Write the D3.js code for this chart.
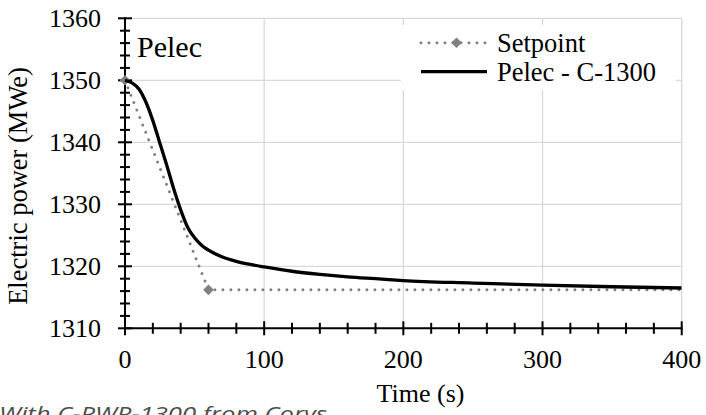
<!DOCTYPE html>
<html>
<head>
<meta charset="utf-8">
<script src="https://cdn.jsdelivr.net/npm/d3@7"></script>
<style>
  html, body { margin: 0; padding: 0; background: #fff; }
  svg { display: block; }
</style>
</head>
<body>
<svg id="chart" width="706" height="415"></svg>
<script>
// Electric power during a load reduction from 1350 MWe
const setpointTime = [0, 60, 1000];
const setpointPower = [1350, 1316.2, 1316.2];

const pelecTime = [0, 5, 10, 15, 20, 25, 30, 35, 40, 45, 50, 55, 60, 70, 80, 90, 100,
  120, 140, 160, 180, 200, 250, 300, 350, 400];
const pelecPower = [1350.0, 1349.6, 1348.6, 1346.5, 1343.5, 1339.9, 1336.3, 1332.5, 1329.1,
  1326.3, 1324.6, 1323.4, 1322.6, 1321.5, 1320.8, 1320.3, 1319.9,
  1319.2, 1318.7, 1318.3, 1318.0, 1317.7, 1317.3, 1316.95, 1316.7, 1316.5];

const xMajorTicks = [0, 100, 200, 300, 400];
const yMajorTicks = [1310, 1320, 1330, 1340, 1350, 1360];
const seriesNames = ["Setpoint", "Pelec - C-1300"];
const panelLabel = "Pelec";
const xTitle = "Time (s)";
const yTitle = "Electric power (MWe)";
const sourceNote = "With C-PWR-1300 from Corys";

const serif = "'Liberation Serif', 'Times New Roman', 'DejaVu Serif', serif";

const svg = d3.select("#chart").attr("font-family", serif);
const plot = { left: 125, right: 681.7, top: 18.3, bottom: 328.3 };

const x = d3.scaleLinear().domain([0, 400]).range([plot.left, plot.right]);
const y = d3.scaleLinear().domain([1310, 1360]).range([plot.bottom, plot.top]);

const gridColor = "#d9d9d9";
const setColor = "#808080";

// gridlines
const grid = svg.append("g");
grid.selectAll("line.h").data(yMajorTicks.filter(v => v > 1310)).join("line")
  .attr("x1", plot.left).attr("x2", plot.right)
  .attr("y1", d => y(d)).attr("y2", d => y(d))
  .attr("stroke", gridColor).attr("stroke-width", 1.3);
grid.selectAll("line.v").data(xMajorTicks.filter(v => v > 0)).join("line")
  .attr("x1", d => x(d)).attr("x2", d => x(d))
  .attr("y1", plot.top).attr("y2", plot.bottom)
  .attr("stroke", gridColor).attr("stroke-width", 1.3);

// axes with crossing tick marks
const axes = svg.append("g").attr("stroke", "#000").attr("stroke-width", 2);
axes.append("line").attr("x1", plot.left).attr("x2", plot.left)
  .attr("y1", plot.top - 1).attr("y2", plot.bottom + 1);
axes.append("line").attr("x1", plot.left - 1).attr("x2", plot.right + 1)
  .attr("y1", plot.bottom).attr("y2", plot.bottom);

const yMinor = d3.range(1310, 1360.001, 2).filter(v => v % 10 !== 0);
const xMinor = d3.range(0, 400.001, 20).filter(v => v % 100 !== 0);

axes.selectAll("line.ymaj").data(yMajorTicks).join("line")
  .attr("x1", plot.left - 7).attr("x2", plot.left + 7)
  .attr("y1", d => y(d)).attr("y2", d => y(d));
axes.selectAll("line.ymin").data(yMinor).join("line")
  .attr("x1", plot.left - 5).attr("x2", plot.left + 5)
  .attr("y1", d => y(d)).attr("y2", d => y(d));
axes.selectAll("line.xmaj").data(xMajorTicks).join("line")
  .attr("x1", d => x(d)).attr("x2", d => x(d))
  .attr("y1", plot.bottom - 7).attr("y2", plot.bottom + 7);
axes.selectAll("line.xmin").data(xMinor).join("line")
  .attr("x1", d => x(d)).attr("x2", d => x(d))
  .attr("y1", plot.bottom - 5.5).attr("y2", plot.bottom + 5.5);

// tick labels
svg.append("g").selectAll("text").data(yMajorTicks).join("text")
  .attr("x", 101).attr("y", d => y(d) + 9)
  .attr("text-anchor", "end").attr("font-size", 26)
  .text(d => d);
svg.append("g").selectAll("text").data(xMajorTicks).join("text")
  .attr("x", d => x(d)).attr("y", 368)
  .attr("text-anchor", "middle").attr("font-size", 26)
  .text(d => d);

// axis titles
svg.append("text")
  .attr("transform", "translate(26.5, 186) rotate(-90)")
  .attr("text-anchor", "middle").attr("font-size", 26.5)
  .text(yTitle);
svg.append("text")
  .attr("x", 420.5).attr("y", 401.5)
  .attr("text-anchor", "middle").attr("font-size", 26)
  .text(xTitle);

// panel label
svg.append("text").attr("x", 137).attr("y", 56.7).attr("font-size", 30).text(panelLabel);

// clip for series lines
svg.append("defs").append("clipPath").attr("id", "plotClip")
  .append("rect").attr("x", plot.left - 2).attr("y", plot.top - 10)
  .attr("width", plot.right - plot.left + 2).attr("height", plot.bottom - plot.top + 20);

const setpoint = setpointTime.map((t, i) => ({ t, v: setpointPower[i] }));
const pelec = pelecTime.map((t, i) => ({ t, v: pelecPower[i] }));

const line = d3.line().x(d => x(d.t)).y(d => y(d.v));
const smooth = d3.line().x(d => x(d.t)).y(d => y(d.v)).curve(d3.curveMonotoneX);

svg.append("path").datum(setpoint)
  .attr("clip-path", "url(#plotClip)")
  .attr("d", line).attr("fill", "none")
  .attr("stroke", setColor).attr("stroke-width", 3)
  .attr("stroke-linecap", "round").attr("stroke-dasharray", "0 8");

const diamond = d3.symbol().type(d3.symbolDiamond2).size(72);
svg.append("g").selectAll("path").data(setpoint.filter(d => d.t <= 400)).join("path")
  .attr("transform", d => `translate(${x(d.t)},${y(d.v)})`)
  .attr("d", diamond).attr("fill", setColor);

svg.append("path").datum(pelec)
  .attr("clip-path", "url(#plotClip)")
  .attr("d", smooth).attr("fill", "none")
  .attr("stroke", "#000").attr("stroke-width", 3.3);

// legend
const lg = svg.append("g");
lg.append("rect").attr("x", 401).attr("y", 25).attr("width", 275).attr("height", 65).attr("fill", "#fff");
lg.append("line").attr("x1", 421).attr("x2", 487).attr("y1", 42.7).attr("y2", 42.7)
  .attr("stroke", setColor).attr("stroke-width", 3)
  .attr("stroke-linecap", "round").attr("stroke-dasharray", "0 8");
lg.append("path").attr("transform", "translate(456.5,42.7)").attr("d", diamond).attr("fill", setColor);
lg.append("line").attr("x1", 421).attr("x2", 487).attr("y1", 71.7).attr("y2", 71.7)
  .attr("stroke", "#000").attr("stroke-width", 3.3);
lg.selectAll("text").data(seriesNames).join("text")
  .attr("x", 497).attr("y", (d, i) => 51.5 + i * 29)
  .attr("font-size", 26.5).text(d => d);

// source note at the lower edge
svg.append("text")
  .attr("x", -1).attr("y", 421)
  .attr("font-family", "'Open Sans', 'Noto Sans', sans-serif")
  .attr("font-style", "italic").attr("font-size", 20)
  .attr("textLength", 328).attr("lengthAdjust", "spacingAndGlyphs")
  .attr("fill", "#4d4d4d")
  .text(sourceNote);
</script>
</body>
</html>
